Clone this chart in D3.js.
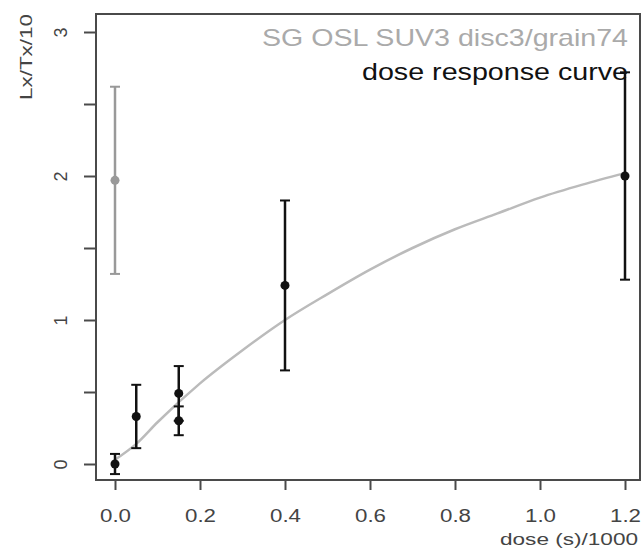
<!DOCTYPE html>
<html lang="en">
    <head>
        <title>dose response curve</title>
        <meta charset="utf-8">
        <script src="https://cdn.jsdelivr.net/npm/d3@7"></script>
        <style>
            body { margin: 0; background: #fff; }
            text { font-family: "Liberation Sans", Arial, sans-serif; }
        </style>
    </head>
    <body>
        <div id="graph"></div>
    </body>
    <script>
        // measured points (dose/1000, Lx/Tx/10) with error bars
        const doses   = [0.0, 0.05, 0.15, 0.15, 0.40, 1.20];
        const lxtx    = [0.0, 0.33, 0.49, 0.30, 1.24, 2.00];
        const errs    = [0.07, 0.22, 0.19, 0.10, 0.59, 0.72];
        // natural signal (grey)
        const natDose = [0.0];
        const natVal  = [1.97];
        const natErr  = [0.65];
        // fitted curve
        const curveX = [0.0, 0.05, 0.1, 0.2, 0.3, 0.4, 0.5, 0.6, 0.7, 0.8, 0.9, 1.0, 1.1, 1.2];
        const curveY = [0.03, 0.14, 0.29, 0.56, 0.79, 1.00, 1.18, 1.35, 1.50, 1.63, 1.74, 1.85, 1.94, 2.02];
        const xTicks = [0, 0.2, 0.4, 0.6, 0.8, 1.0, 1.2];
        const yTicks = [0, 0.5, 1, 1.5, 2, 2.5, 3];
        const yLabels = [0, 1, 2, 3];

        var W = 644, H = 552;
        var box = {left: 96, top: 14, right: 640, bottom: 480};
        var svg = d3.select("#graph").append("svg").attr("width", W).attr("height", H);

        var x = d3.scaleLinear().domain([0, 1.2]).range([115, 625]);
        var y = d3.scaleLinear().domain([0, 3]).range([464, 32]);

        var axisCol = "#4a4a4a";

        // frame
        svg.append("rect")
        .attr("x", box.left).attr("y", box.top)
        .attr("width", box.right - box.left).attr("height", box.bottom - box.top)
        .attr("fill", "none").attr("stroke", axisCol).attr("stroke-width", 2);

        // X axis
        var xa = svg.append("g")
        .attr("transform", "translate(0," + box.bottom + ")")
        .call(d3.axisBottom(x).tickValues(xTicks).tickFormat(d3.format(".1f")).tickSize(10));
        xa.select(".domain").remove();
        xa.selectAll("line").attr("stroke", axisCol).attr("stroke-width", 2);
        xa.selectAll("text").attr("font-size", 18).attr("fill", "#444").attr("dy", 0).attr("y", 42)
        .attr("textLength", 31).attr("lengthAdjust", "spacingAndGlyphs");

        // Y axis
        var ya = svg.append("g")
        .attr("transform", "translate(" + box.left + ",0)")
        .call(d3.axisLeft(y).tickValues(yTicks).tickFormat(d => yLabels.includes(d) ? d : "").tickSize(12));
        ya.select(".domain").remove();
        ya.selectAll("line").attr("stroke", axisCol).attr("stroke-width", 2);
        ya.selectAll("text")
        .attr("font-size", 18).attr("fill", "#444")
        .attr("text-anchor", "middle").attr("dy", 0).attr("x", 0)
        .attr("transform", "translate(-36,0) rotate(-90) translate(0,7)");

        // axis titles
        svg.append("text").attr("x", 638).attr("y", 545).attr("text-anchor", "end")
        .attr("font-size", 17).attr("fill", "#444")
        .attr("textLength", 138).attr("lengthAdjust", "spacingAndGlyphs").text("dose (s)/1000");
        svg.append("text").attr("transform", "translate(32,57) rotate(-90)").attr("text-anchor", "middle")
        .attr("font-size", 17).attr("fill", "#444")
        .attr("textLength", 86).attr("lengthAdjust", "spacingAndGlyphs").text("Lx/Tx/10");

        // fitted curve
        var line = d3.line().x(d => x(d[0])).y(d => y(d[1])).curve(d3.curveMonotoneX);
        svg.append("path").datum(d3.zip(curveX, curveY))
        .attr("d", line).attr("fill", "none").attr("stroke", "#bbb").attr("stroke-width", 2.5);

        function drawPoints(xs, ys, es, col){
            var g = svg.append("g");
            var data = d3.zip(xs, ys, es);
            g.selectAll("line.bar").data(data).enter().append("line")
            .attr("x1", d => x(d[0])).attr("x2", d => x(d[0]))
            .attr("y1", d => y(d[1] - d[2])).attr("y2", d => y(d[1] + d[2]))
            .attr("stroke", col).attr("stroke-width", 2.5);
            g.selectAll("line.top").data(data).enter().append("line")
            .attr("x1", d => x(d[0]) - 5).attr("x2", d => x(d[0]) + 5)
            .attr("y1", d => y(d[1] + d[2])).attr("y2", d => y(d[1] + d[2]))
            .attr("stroke", col).attr("stroke-width", 2);
            g.selectAll("line.bot").data(data).enter().append("line")
            .attr("x1", d => x(d[0]) - 5).attr("x2", d => x(d[0]) + 5)
            .attr("y1", d => y(d[1] - d[2])).attr("y2", d => y(d[1] - d[2]))
            .attr("stroke", col).attr("stroke-width", 2);
            g.selectAll("circle").data(data).enter().append("circle")
            .attr("cx", d => x(d[0])).attr("cy", d => y(d[1])).attr("r", 4.5)
            .attr("fill", col);
        }
        drawPoints(natDose, natVal, natErr, "#999");
        drawPoints(doses, lxtx, errs, "#111");

        // legend text
        svg.append("text").attr("x", 628).attr("y", 46).attr("text-anchor", "end")
        .attr("font-size", 24).attr("fill", "#aaa")
        .attr("textLength", 366).attr("lengthAdjust", "spacingAndGlyphs").text("SG OSL SUV3 disc3/grain74");
        svg.append("text").attr("x", 628).attr("y", 80).attr("text-anchor", "end")
        .attr("font-size", 24).attr("fill", "#111")
        .attr("textLength", 266).attr("lengthAdjust", "spacingAndGlyphs").text("dose response curve");
    </script>
</html>
